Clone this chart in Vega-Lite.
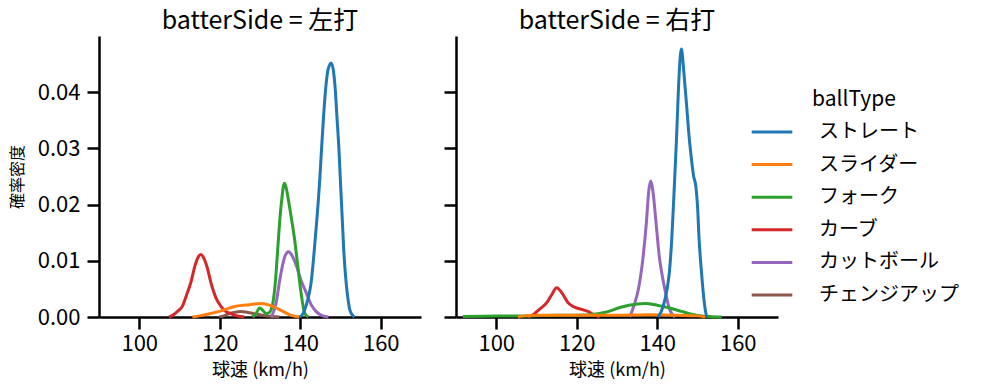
{
  "$schema": "https://vega.github.io/schema/vega-lite/v6.json",
  "padding": {"left": 9, "top": 9, "right": 5, "bottom": 5},
  "background": "white",
  "config": {
    "font": "Noto Sans CJK JP",
    "view": {"stroke": null},
    "concat": {"spacing": 21},
    "axis": {
      "grid": false,
      "domainColor": "#000000",
      "domainWidth": 2.5,
      "tickColor": "#000000",
      "tickWidth": 2.5,
      "tickSize": 12,
      "labelFont": "Noto Sans CJK JP",
      "labelFontSize": 22,
      "labelColor": "#000000",
      "titleFont": "Noto Sans CJK JP",
      "titleFontSize": 16,
      "titleFontWeight": "normal",
      "titleColor": "#000000"
    },
    "axisX": {"labelPadding": 4, "titlePadding": 7, "titleFontSize": 18},
    "axisY": {"labelPadding": 7, "titlePadding": 12},
    "title": {"font": "Noto Sans CJK JP", "fontSize": 25, "fontWeight": "normal", "color": "#000000", "offset": 2},
    "legend": {
      "titleFont": "Noto Sans CJK JP",
      "titleFontSize": 21,
      "titleFontWeight": "normal",
      "titleColor": "#000000",
      "labelFont": "Noto Sans CJK JP",
      "labelFontSize": 20,
      "labelColor": "#000000"
    }
  },
  "data": {
    "values": [
      {"batterSide": "左打", "ballType": "チェンジアップ", "speed": 119.9, "density": 0},
      {"batterSide": "左打", "ballType": "チェンジアップ", "speed": 121, "density": 0.0002},
      {"batterSide": "左打", "ballType": "チェンジアップ", "speed": 122, "density": 0.0005},
      {"batterSide": "左打", "ballType": "チェンジアップ", "speed": 123.5, "density": 0.0008},
      {"batterSide": "左打", "ballType": "チェンジアップ", "speed": 125.3, "density": 0.001},
      {"batterSide": "左打", "ballType": "チェンジアップ", "speed": 127, "density": 0.0008},
      {"batterSide": "左打", "ballType": "チェンジアップ", "speed": 128.5, "density": 0.0006},
      {"batterSide": "左打", "ballType": "チェンジアップ", "speed": 130, "density": 0.0004},
      {"batterSide": "左打", "ballType": "チェンジアップ", "speed": 131.5, "density": 0.0002},
      {"batterSide": "左打", "ballType": "チェンジアップ", "speed": 133, "density": 0.0001},
      {"batterSide": "左打", "ballType": "チェンジアップ", "speed": 134.8, "density": 0},

      {"batterSide": "左打", "ballType": "カットボール", "speed": 132.8, "density": 0},
      {"batterSide": "左打", "ballType": "カットボール", "speed": 133.4, "density": 0.001},
      {"batterSide": "左打", "ballType": "カットボール", "speed": 134.0, "density": 0.0025},
      {"batterSide": "左打", "ballType": "カットボール", "speed": 134.8, "density": 0.0061},
      {"batterSide": "左打", "ballType": "カットボール", "speed": 135.6, "density": 0.0092},
      {"batterSide": "左打", "ballType": "カットボール", "speed": 136.3, "density": 0.011},
      {"batterSide": "左打", "ballType": "カットボール", "speed": 137.1, "density": 0.0116},
      {"batterSide": "左打", "ballType": "カットボール", "speed": 137.9, "density": 0.011},
      {"batterSide": "左打", "ballType": "カットボール", "speed": 139.0, "density": 0.0092},
      {"batterSide": "左打", "ballType": "カットボール", "speed": 140.2, "density": 0.0065},
      {"batterSide": "左打", "ballType": "カットボール", "speed": 141.5, "density": 0.0043},
      {"batterSide": "左打", "ballType": "カットボール", "speed": 142.7, "density": 0.0022},
      {"batterSide": "左打", "ballType": "カットボール", "speed": 143.9, "density": 0.001},
      {"batterSide": "左打", "ballType": "カットボール", "speed": 145.6, "density": 0.0002},
      {"batterSide": "左打", "ballType": "カットボール", "speed": 147.0, "density": 0},

      {"batterSide": "左打", "ballType": "カーブ", "speed": 107.4, "density": 0},
      {"batterSide": "左打", "ballType": "カーブ", "speed": 108.5, "density": 0.0004},
      {"batterSide": "左打", "ballType": "カーブ", "speed": 109.5, "density": 0.001},
      {"batterSide": "左打", "ballType": "カーブ", "speed": 110.7, "density": 0.0019},
      {"batterSide": "左打", "ballType": "カーブ", "speed": 111.7, "density": 0.0038},
      {"batterSide": "左打", "ballType": "カーブ", "speed": 112.8, "density": 0.0061},
      {"batterSide": "左打", "ballType": "カーブ", "speed": 113.8, "density": 0.009},
      {"batterSide": "左打", "ballType": "カーブ", "speed": 114.6, "density": 0.0106},
      {"batterSide": "左打", "ballType": "カーブ", "speed": 115.3, "density": 0.0111},
      {"batterSide": "左打", "ballType": "カーブ", "speed": 116.1, "density": 0.0104},
      {"batterSide": "左打", "ballType": "カーブ", "speed": 117.0, "density": 0.0085},
      {"batterSide": "左打", "ballType": "カーブ", "speed": 117.8, "density": 0.0061},
      {"batterSide": "左打", "ballType": "カーブ", "speed": 119.0, "density": 0.0035},
      {"batterSide": "左打", "ballType": "カーブ", "speed": 120.3, "density": 0.0019},
      {"batterSide": "左打", "ballType": "カーブ", "speed": 121.3, "density": 0.0011},
      {"batterSide": "左打", "ballType": "カーブ", "speed": 122.4, "density": 0.0007},
      {"batterSide": "左打", "ballType": "カーブ", "speed": 123.8, "density": 0.0003},
      {"batterSide": "左打", "ballType": "カーブ", "speed": 126.1, "density": 0},

      {"batterSide": "左打", "ballType": "フォーク", "speed": 128.1, "density": 0},
      {"batterSide": "左打", "ballType": "フォーク", "speed": 129.0, "density": 0.0006},
      {"batterSide": "左打", "ballType": "フォーク", "speed": 129.9, "density": 0.0016},
      {"batterSide": "左打", "ballType": "フォーク", "speed": 130.7, "density": 0.0012},
      {"batterSide": "左打", "ballType": "フォーク", "speed": 131.5, "density": 0.0006},
      {"batterSide": "左打", "ballType": "フォーク", "speed": 132.3, "density": 0.0008},
      {"batterSide": "左打", "ballType": "フォーク", "speed": 132.8, "density": 0.0014},
      {"batterSide": "左打", "ballType": "フォーク", "speed": 133.2, "density": 0.0025},
      {"batterSide": "左打", "ballType": "フォーク", "speed": 133.8, "density": 0.0061},
      {"batterSide": "左打", "ballType": "フォーク", "speed": 134.4, "density": 0.012},
      {"batterSide": "左打", "ballType": "フォーク", "speed": 135.0, "density": 0.018},
      {"batterSide": "左打", "ballType": "フォーク", "speed": 135.5, "density": 0.0215},
      {"batterSide": "左打", "ballType": "フォーク", "speed": 135.8, "density": 0.0232},
      {"batterSide": "左打", "ballType": "フォーク", "speed": 136.1, "density": 0.0238},
      {"batterSide": "左打", "ballType": "フォーク", "speed": 136.5, "density": 0.023},
      {"batterSide": "左打", "ballType": "フォーク", "speed": 136.9, "density": 0.0215},
      {"batterSide": "左打", "ballType": "フォーク", "speed": 137.3, "density": 0.0198},
      {"batterSide": "左打", "ballType": "フォーク", "speed": 137.7, "density": 0.018},
      {"batterSide": "左打", "ballType": "フォーク", "speed": 138.6, "density": 0.0138},
      {"batterSide": "左打", "ballType": "フォーク", "speed": 139.4, "density": 0.009},
      {"batterSide": "左打", "ballType": "フォーク", "speed": 140.2, "density": 0.0043},
      {"batterSide": "左打", "ballType": "フォーク", "speed": 141.1, "density": 0.0007},
      {"batterSide": "左打", "ballType": "フォーク", "speed": 142.0, "density": 0},

      {"batterSide": "左打", "ballType": "スライダー", "speed": 113.2, "density": 0},
      {"batterSide": "左打", "ballType": "スライダー", "speed": 115, "density": 0.0002},
      {"batterSide": "左打", "ballType": "スライダー", "speed": 117, "density": 0.0005},
      {"batterSide": "左打", "ballType": "スライダー", "speed": 119.9, "density": 0.001},
      {"batterSide": "左打", "ballType": "スライダー", "speed": 122, "density": 0.0015},
      {"batterSide": "左打", "ballType": "スライダー", "speed": 124, "density": 0.0019},
      {"batterSide": "左打", "ballType": "スライダー", "speed": 127.4, "density": 0.0022},
      {"batterSide": "左打", "ballType": "スライダー", "speed": 130.3, "density": 0.0024},
      {"batterSide": "左打", "ballType": "スライダー", "speed": 133.2, "density": 0.0019},
      {"batterSide": "左打", "ballType": "スライダー", "speed": 135.7, "density": 0.001},
      {"batterSide": "左打", "ballType": "スライダー", "speed": 137.8, "density": 0.0003},
      {"batterSide": "左打", "ballType": "スライダー", "speed": 139.8, "density": 0},

      {"batterSide": "左打", "ballType": "ストレート", "speed": 139.8, "density": 0},
      {"batterSide": "左打", "ballType": "ストレート", "speed": 140.5, "density": 0.0004},
      {"batterSide": "左打", "ballType": "ストレート", "speed": 141.1, "density": 0.0013},
      {"batterSide": "左打", "ballType": "ストレート", "speed": 141.9, "density": 0.0032},
      {"batterSide": "左打", "ballType": "ストレート", "speed": 142.7, "density": 0.0061},
      {"batterSide": "左打", "ballType": "ストレート", "speed": 143.5, "density": 0.012},
      {"batterSide": "左打", "ballType": "ストレート", "speed": 144.2, "density": 0.018},
      {"batterSide": "左打", "ballType": "ストレート", "speed": 144.8, "density": 0.0239},
      {"batterSide": "左打", "ballType": "ストレート", "speed": 145.3, "density": 0.03},
      {"batterSide": "左打", "ballType": "ストレート", "speed": 145.8, "density": 0.0358},
      {"batterSide": "左打", "ballType": "ストレート", "speed": 146.3, "density": 0.0405},
      {"batterSide": "左打", "ballType": "ストレート", "speed": 146.9, "density": 0.044},
      {"batterSide": "左打", "ballType": "ストレート", "speed": 147.7, "density": 0.0452},
      {"batterSide": "左打", "ballType": "ストレート", "speed": 148.3, "density": 0.0435},
      {"batterSide": "左打", "ballType": "ストレート", "speed": 148.7, "density": 0.0405},
      {"batterSide": "左打", "ballType": "ストレート", "speed": 149.1, "density": 0.0358},
      {"batterSide": "左打", "ballType": "ストレート", "speed": 149.6, "density": 0.03},
      {"batterSide": "左打", "ballType": "ストレート", "speed": 150.0, "density": 0.0239},
      {"batterSide": "左打", "ballType": "ストレート", "speed": 150.4, "density": 0.018},
      {"batterSide": "左打", "ballType": "ストレート", "speed": 150.8, "density": 0.012},
      {"batterSide": "左打", "ballType": "ストレート", "speed": 151.4, "density": 0.0061},
      {"batterSide": "左打", "ballType": "ストレート", "speed": 151.9, "density": 0.003},
      {"batterSide": "左打", "ballType": "ストレート", "speed": 152.3, "density": 0.0013},
      {"batterSide": "左打", "ballType": "ストレート", "speed": 153.0, "density": 0.0003},
      {"batterSide": "左打", "ballType": "ストレート", "speed": 153.5, "density": 0},

      {"batterSide": "右打", "ballType": "カットボール", "speed": 133.2, "density": 0},
      {"batterSide": "右打", "ballType": "カットボール", "speed": 134.2, "density": 0.002},
      {"batterSide": "右打", "ballType": "カットボール", "speed": 135.3, "density": 0.0049},
      {"batterSide": "右打", "ballType": "カットボール", "speed": 136.5, "density": 0.0108},
      {"batterSide": "右打", "ballType": "カットボール", "speed": 137.3, "density": 0.0168},
      {"batterSide": "右打", "ballType": "カットボール", "speed": 137.9, "density": 0.0225},
      {"batterSide": "右打", "ballType": "カットボール", "speed": 138.4, "density": 0.0242},
      {"batterSide": "右打", "ballType": "カットボール", "speed": 138.9, "density": 0.0225},
      {"batterSide": "右打", "ballType": "カットボール", "speed": 139.7, "density": 0.0168},
      {"batterSide": "右打", "ballType": "カットボール", "speed": 140.5, "density": 0.0108},
      {"batterSide": "右打", "ballType": "カットボール", "speed": 141.2, "density": 0.0075},
      {"batterSide": "右打", "ballType": "カットボール", "speed": 141.9, "density": 0.0049},
      {"batterSide": "右打", "ballType": "カットボール", "speed": 143.0, "density": 0.0015},
      {"batterSide": "右打", "ballType": "カットボール", "speed": 144.4, "density": 0},

      {"batterSide": "右打", "ballType": "カーブ", "speed": 107.9, "density": 0},
      {"batterSide": "右打", "ballType": "カーブ", "speed": 109.5, "density": 0.0006},
      {"batterSide": "右打", "ballType": "カーブ", "speed": 110.8, "density": 0.0014},
      {"batterSide": "右打", "ballType": "カーブ", "speed": 112.5, "density": 0.0025},
      {"batterSide": "右打", "ballType": "カーブ", "speed": 113.8, "density": 0.004},
      {"batterSide": "右打", "ballType": "カーブ", "speed": 115.0, "density": 0.0052},
      {"batterSide": "右打", "ballType": "カーブ", "speed": 116.3, "density": 0.0043},
      {"batterSide": "右打", "ballType": "カーブ", "speed": 117.9, "density": 0.0025},
      {"batterSide": "右打", "ballType": "カーブ", "speed": 119.0, "density": 0.0019},
      {"batterSide": "右打", "ballType": "カーブ", "speed": 120.0, "density": 0.0016},
      {"batterSide": "右打", "ballType": "カーブ", "speed": 121.5, "density": 0.0013},
      {"batterSide": "右打", "ballType": "カーブ", "speed": 122.8, "density": 0.001},
      {"batterSide": "右打", "ballType": "カーブ", "speed": 124.3, "density": 0.0004},
      {"batterSide": "右打", "ballType": "カーブ", "speed": 125.7, "density": 0},

      {"batterSide": "右打", "ballType": "フォーク", "speed": 91.7, "density": 0.0001},
      {"batterSide": "右打", "ballType": "フォーク", "speed": 100, "density": 0.0002},
      {"batterSide": "右打", "ballType": "フォーク", "speed": 108, "density": 0.0002},
      {"batterSide": "右打", "ballType": "フォーク", "speed": 115, "density": 0.0003},
      {"batterSide": "右打", "ballType": "フォーク", "speed": 120, "density": 0.0003},
      {"batterSide": "右打", "ballType": "フォーク", "speed": 125.3, "density": 0.0006},
      {"batterSide": "右打", "ballType": "フォーク", "speed": 128, "density": 0.001},
      {"batterSide": "右打", "ballType": "フォーク", "speed": 130.3, "density": 0.0016},
      {"batterSide": "右打", "ballType": "フォーク", "speed": 133, "density": 0.0021},
      {"batterSide": "右打", "ballType": "フォーク", "speed": 136.9, "density": 0.0024},
      {"batterSide": "右打", "ballType": "フォーク", "speed": 140, "density": 0.0021},
      {"batterSide": "右打", "ballType": "フォーク", "speed": 143.6, "density": 0.0015},
      {"batterSide": "右打", "ballType": "フォーク", "speed": 146, "density": 0.001},
      {"batterSide": "右打", "ballType": "フォーク", "speed": 148.5, "density": 0.0005},
      {"batterSide": "右打", "ballType": "フォーク", "speed": 151, "density": 0.0002},
      {"batterSide": "右打", "ballType": "フォーク", "speed": 153, "density": 0.0001},
      {"batterSide": "右打", "ballType": "フォーク", "speed": 156, "density": 0},

      {"batterSide": "右打", "ballType": "スライダー", "speed": 105.4, "density": 0},
      {"batterSide": "右打", "ballType": "スライダー", "speed": 107, "density": 0.0002},
      {"batterSide": "右打", "ballType": "スライダー", "speed": 110, "density": 0.0003},
      {"batterSide": "右打", "ballType": "スライダー", "speed": 120, "density": 0.0003},
      {"batterSide": "右打", "ballType": "スライダー", "speed": 130, "density": 0.0003},
      {"batterSide": "右打", "ballType": "スライダー", "speed": 138, "density": 0.0004},
      {"batterSide": "右打", "ballType": "スライダー", "speed": 145, "density": 0.0003},
      {"batterSide": "右打", "ballType": "スライダー", "speed": 150, "density": 0.0002},
      {"batterSide": "右打", "ballType": "スライダー", "speed": 151.9, "density": 0},

      {"batterSide": "右打", "ballType": "ストレート", "speed": 140.2, "density": 0},
      {"batterSide": "右打", "ballType": "ストレート", "speed": 141.0, "density": 0.001},
      {"batterSide": "右打", "ballType": "ストレート", "speed": 141.9, "density": 0.0031},
      {"batterSide": "右打", "ballType": "ストレート", "speed": 142.5, "density": 0.0052},
      {"batterSide": "右打", "ballType": "ストレート", "speed": 143.0, "density": 0.0079},
      {"batterSide": "右打", "ballType": "ストレート", "speed": 143.6, "density": 0.0138},
      {"batterSide": "右打", "ballType": "ストレート", "speed": 144.0, "density": 0.0195},
      {"batterSide": "右打", "ballType": "ストレート", "speed": 144.4, "density": 0.0257},
      {"batterSide": "右打", "ballType": "ストレート", "speed": 144.8, "density": 0.032},
      {"batterSide": "右打", "ballType": "ストレート", "speed": 145.1, "density": 0.0376},
      {"batterSide": "右打", "ballType": "ストレート", "speed": 145.5, "density": 0.044},
      {"batterSide": "右打", "ballType": "ストレート", "speed": 146.0, "density": 0.0477},
      {"batterSide": "右打", "ballType": "ストレート", "speed": 146.5, "density": 0.0445},
      {"batterSide": "右打", "ballType": "ストレート", "speed": 146.9, "density": 0.041},
      {"batterSide": "右打", "ballType": "ストレート", "speed": 147.3, "density": 0.0376},
      {"batterSide": "右打", "ballType": "ストレート", "speed": 147.8, "density": 0.033},
      {"batterSide": "右打", "ballType": "ストレート", "speed": 148.4, "density": 0.0287},
      {"batterSide": "右打", "ballType": "ストレート", "speed": 149.0, "density": 0.0252},
      {"batterSide": "右打", "ballType": "ストレート", "speed": 149.6, "density": 0.0232},
      {"batterSide": "右打", "ballType": "ストレート", "speed": 150.0, "density": 0.0198},
      {"batterSide": "右打", "ballType": "ストレート", "speed": 150.4, "density": 0.0138},
      {"batterSide": "右打", "ballType": "ストレート", "speed": 151.0, "density": 0.0079},
      {"batterSide": "右打", "ballType": "ストレート", "speed": 151.6, "density": 0.0031},
      {"batterSide": "右打", "ballType": "ストレート", "speed": 152.0, "density": 0.001},
      {"batterSide": "右打", "ballType": "ストレート", "speed": 152.3, "density": 0}
    ]
  },
  "hconcat": [
    {
      "title": "batterSide = 左打",
      "width": 322,
      "height": 281,
      "transform": [{"filter": "datum.batterSide === '左打'"}],
      "mark": {"type": "line", "interpolate": "monotone", "strokeWidth": 3},
      "encoding": {
        "x": {"field": "speed", "type": "quantitative", "scale": {"domain": [90, 170], "nice": false}, "axis": {"values": [100, 120, 140, 160], "title": "球速 (km/h)"}},
        "y": {"field": "density", "type": "quantitative", "scale": {"domain": [0, 0.05], "nice": false}, "axis": {"values": [0, 0.01, 0.02, 0.03, 0.04], "format": ".2f", "title": "確率密度"}},
        "color": {
          "field": "ballType",
          "type": "nominal",
          "scale": {"domain": ["ストレート", "スライダー", "フォーク", "カーブ", "カットボール", "チェンジアップ"], "range": ["#1f77b4", "#ff7f0e", "#2ca02c", "#d62728", "#9467bd", "#8c564b"]},
          "legend": {"title": "ballType", "orient": "none", "legendX": 651, "legendY": 53, "symbolType": "stroke", "symbolSize": 1650, "symbolStrokeWidth": 3, "labelOffset": 25, "titleAnchor": "middle", "rowPadding": 0.6, "titlePadding": 0}
        }
      }
    },
    {
      "title": "batterSide = 右打",
      "width": 322,
      "height": 281,
      "transform": [{"filter": "datum.batterSide === '右打'"}],
      "mark": {"type": "line", "interpolate": "monotone", "strokeWidth": 3},
      "encoding": {
        "x": {"field": "speed", "type": "quantitative", "scale": {"domain": [90, 170], "nice": false}, "axis": {"values": [100, 120, 140, 160], "title": "球速 (km/h)"}},
        "y": {"field": "density", "type": "quantitative", "scale": {"domain": [0, 0.05], "nice": false}, "axis": {"values": [0, 0.01, 0.02, 0.03, 0.04], "labels": false, "title": null}},
        "color": {"field": "ballType", "type": "nominal"}
      }
    }
  ]
}
